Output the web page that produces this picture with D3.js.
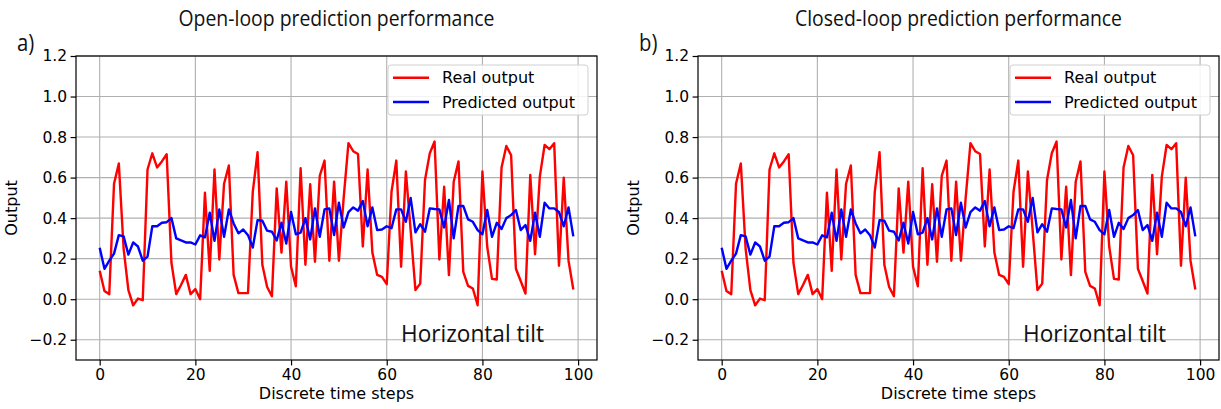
<!DOCTYPE html>
<html><head><meta charset="utf-8">
<script src="https://cdn.jsdelivr.net/npm/d3@7"></script>
<style>
body{margin:0;background:#fff;}
svg{display:block;}
</style></head>
<body>
<svg id="chart" width="1221" height="409"></svg>
<script>
const steps = d3.range(100);
const realOutput = [0.14,0.04,0.025,0.57,0.67,0.25,0.045,-0.03,0.003,-0.005,
0.64,0.72,0.65,0.68,0.715,0.18,0.025,0.07,0.12,0.025,
0.05,0.0,0.525,0.14,0.64,0.196,0.57,0.66,0.12,0.03,
0.03,0.03,0.53,0.725,0.17,0.06,0.015,0.547,0.23,0.58,
0.16,0.064,0.646,0.17,0.567,0.185,0.608,0.684,0.19,0.58,
0.19,0.50,0.77,0.73,0.716,0.26,0.64,0.23,0.12,0.11,
0.074,0.53,0.684,0.16,0.63,0.34,0.045,0.077,0.588,0.72,
0.778,0.196,0.555,0.119,0.58,0.68,0.135,0.066,0.053,-0.03,
0.63,0.26,0.10,0.097,0.65,0.756,0.71,0.15,0.09,0.028,
0.613,0.222,0.605,0.761,0.74,0.77,0.165,0.60,0.19,0.048];
const openLoopPred = [0.254,0.15,0.19,0.225,0.316,0.31,0.22,0.28,0.26,0.19,
0.21,0.36,0.36,0.377,0.38,0.40,0.30,0.29,0.28,0.28,
0.27,0.315,0.305,0.427,0.288,0.443,0.308,0.443,0.374,0.325,
0.344,0.316,0.255,0.39,0.387,0.338,0.333,0.29,0.377,0.275,
0.43,0.32,0.328,0.40,0.295,0.448,0.308,0.443,0.448,0.316,
0.476,0.354,0.43,0.453,0.437,0.484,0.36,0.453,0.341,0.344,
0.36,0.35,0.443,0.443,0.382,0.50,0.33,0.37,0.333,0.448,
0.445,0.443,0.354,0.49,0.30,0.46,0.46,0.394,0.382,0.341,
0.32,0.44,0.308,0.377,0.346,0.40,0.415,0.44,0.341,0.366,
0.288,0.427,0.308,0.476,0.448,0.448,0.43,0.36,0.453,0.31];
const closedLoopPred = [0.254,0.15,0.19,0.225,0.316,0.31,0.22,0.28,0.26,0.19,
0.21,0.36,0.36,0.377,0.38,0.40,0.30,0.29,0.28,0.28,
0.27,0.315,0.305,0.427,0.288,0.443,0.308,0.443,0.374,0.325,
0.344,0.316,0.255,0.39,0.387,0.338,0.333,0.29,0.377,0.275,
0.43,0.32,0.328,0.40,0.295,0.448,0.308,0.443,0.448,0.316,
0.476,0.354,0.43,0.453,0.437,0.484,0.36,0.453,0.341,0.344,
0.36,0.35,0.443,0.443,0.382,0.50,0.33,0.37,0.333,0.448,
0.445,0.443,0.354,0.49,0.30,0.46,0.46,0.394,0.382,0.341,
0.32,0.44,0.308,0.377,0.346,0.40,0.415,0.44,0.341,0.366,
0.288,0.427,0.308,0.476,0.448,0.448,0.43,0.36,0.453,0.31];
const xTicks = [0,20,40,60,80,100];
const yTicks = [-0.2,0.0,0.2,0.4,0.6,0.8,1.0,1.2];
const panelTitles = ["Open-loop prediction performance","Closed-loop prediction performance"];
const panelLetters = ["a)","b)"];
const seriesNames = ["Real output","Predicted output"];
const annotation = "Horizontal tilt";
const xLabel = "Discrete time steps";
const yLabel = "Output";

const svg = d3.select("#chart");
const tickFont = "'DejaVu Sans', sans-serif";
const titleFont = "'Open Sans', sans-serif";

const panels = [
  {left:76, pred: openLoopPred, title: panelTitles[0], letter: panelLetters[0]},
  {left:698, pred: closedLoopPred, title: panelTitles[1], letter: panelLetters[1]}
];
const W = 521, plotTop = 56, plotBottom = 360;

// horizontal compression to mimic a narrower humanist face
function squeeze(sel, factor){
  const w = sel.node().getComputedTextLength();
  if (w > 0) sel.attr("textLength", w*factor).attr("lengthAdjust","spacingAndGlyphs");
}
// measure compression factor from the closed-loop title (target width 327 px)
const probe = svg.append("text").attr("font-family",titleFont).attr("font-size",22).text(panelTitles[1]);
const titleFactor = 327 / probe.node().getComputedTextLength();
probe.remove();

panels.forEach((p,pi)=>{
  const g = svg.append("g");
  const x = d3.scaleLinear().domain([-4.95,103.95]).range([p.left, p.left+W]);
  const y = d3.scaleLinear().domain([-0.3,1.2]).range([plotBottom, plotTop]);

  // grid
  g.append("g").selectAll("line").data(xTicks).join("line")
    .attr("x1",d=>x(d)).attr("x2",d=>x(d)).attr("y1",plotTop).attr("y2",plotBottom)
    .attr("stroke","#b0b0b0").attr("stroke-width",1.1);
  g.append("g").selectAll("line").data(yTicks).join("line")
    .attr("y1",d=>y(d)).attr("y2",d=>y(d)).attr("x1",p.left).attr("x2",p.left+W)
    .attr("stroke","#b0b0b0").attr("stroke-width",1.1);

  // lines
  const line = d3.line().x((d,i)=>x(steps[i])).y(d=>y(d));
  g.append("path").datum(realOutput).attr("d",line).attr("fill","none")
    .attr("stroke","#ff0000").attr("stroke-width",2.4).attr("stroke-linejoin","round");
  g.append("path").datum(p.pred).attr("d",line).attr("fill","none")
    .attr("stroke","#0000ff").attr("stroke-width",2.4).attr("stroke-linejoin","round");

  // axes
  const xa = g.append("g").attr("transform",`translate(0,${plotBottom})`)
    .call(d3.axisBottom(x).tickValues(xTicks).tickSize(5.4).tickPadding(3.5).tickFormat(d3.format("d")));
  const ya = g.append("g").attr("transform",`translate(${p.left},0)`)
    .call(d3.axisLeft(y).tickValues(yTicks).tickSize(5.4).tickPadding(3.5).tickFormat(d3.format(".1f")));
  [xa,ya].forEach(a=>{
    a.select(".domain").remove();
    a.selectAll("line").attr("stroke","#000").attr("stroke-width",1.2);
    a.selectAll("text").attr("font-family",tickFont).attr("font-size",15.5).attr("fill","#000");
  });

  // spines
  g.append("rect").attr("x",p.left).attr("y",plotTop).attr("width",W).attr("height",plotBottom-plotTop)
    .attr("fill","none").attr("stroke","#000").attr("stroke-width",1.2);

  // labels
  g.append("text").attr("x",p.left+W/2).attr("y",399).attr("text-anchor","middle")
    .attr("font-family",tickFont).attr("font-size",16).text(xLabel);
  g.append("text").attr("transform",`translate(${p.left-59},${(plotTop+plotBottom)/2}) rotate(-90)`)
    .attr("text-anchor","middle").attr("font-family",tickFont).attr("font-size",16).text(yLabel);

  // title
  const t = g.append("text").attr("x",p.left+W/2).attr("y",26).attr("text-anchor","middle")
    .attr("font-family",titleFont).attr("font-size",22).attr("fill","#111").text(p.title);
  squeeze(t, titleFactor);
  const lt = g.append("text").attr("x",p.left-59).attr("y",51).attr("font-family",titleFont)
    .attr("font-size",23).attr("fill","#111").text(p.letter);
  squeeze(lt, titleFactor);

  // annotation
  const an = g.append("text").attr("x",p.left+325).attr("y",342).attr("font-family",titleFont)
    .attr("font-size",24).attr("fill","#111").text(annotation);
  const aw = an.node().getComputedTextLength();
  if (aw > 0) an.attr("textLength",143).attr("lengthAdjust","spacingAndGlyphs");

  // legend
  const lg = g.append("g").attr("transform",`translate(${p.left+312},65)`);
  lg.append("rect").attr("x",0).attr("y",0).attr("width",200).attr("height",50).attr("rx",3)
    .attr("fill","#fff").attr("fill-opacity",0.85).attr("stroke","#d0d0d0").attr("stroke-width",1);
  const colors = ["#ff0000","#0000ff"];
  seriesNames.forEach((n,i)=>{
    const yy = 12.7 + i*24.3;
    lg.append("line").attr("x1",5).attr("x2",41).attr("y1",yy).attr("y2",yy)
      .attr("stroke",colors[i]).attr("stroke-width",2.4);
    lg.append("text").attr("x",54).attr("y",yy+5.5).attr("font-family",tickFont)
      .attr("font-size",16).attr("fill","#000").text(n);
  });
});
</script>
</body></html>
